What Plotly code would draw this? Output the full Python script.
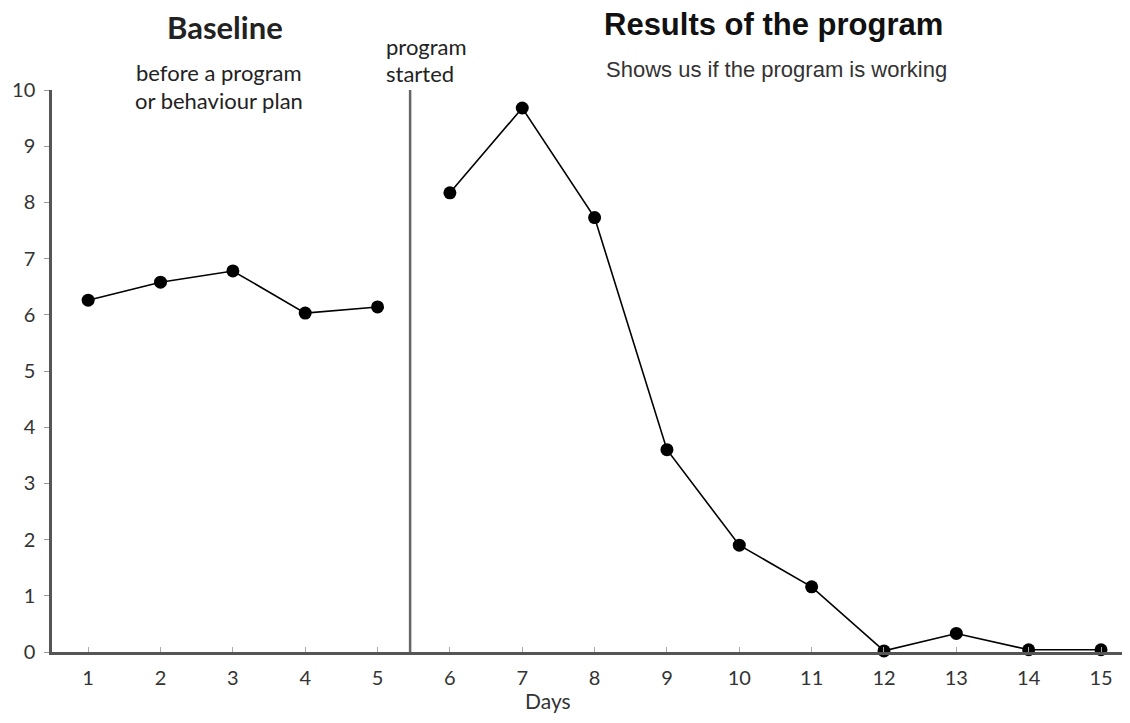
import plotly.graph_objects as go

days = list(range(1, 16))
values = [6.26, 6.58, 6.78, 6.03, 6.14, 8.17, 9.68, 7.73, 3.60, 1.90, 1.16, 0.02, 0.33, 0.04, 0.04]
x_ticks = list(range(1, 16))
y_ticks = list(range(0, 11))
phase_change = 5.45

baseline_x = days[:5]
baseline_y = values[:5]
result_x = days[5:]
result_y = values[5:]

fig = go.Figure()
for xs, ys in [(baseline_x, baseline_y), (result_x, result_y)]:
    fig.add_trace(go.Scatter(
        x=xs, y=ys, mode="lines+markers",
        line=dict(color="black", width=1.6),
        marker=dict(color="black", size=13),
        cliponaxis=False, showlegend=False))

fig.add_shape(type="line", xref="x", yref="y", x0=phase_change, x1=phase_change,
              y0=0, y1=10, line=dict(color="#666666", width=2.5))

tickfont = dict(family="Lato", size=20, color="#333333")
fig.update_xaxes(range=[0.5, 15.29], tickvals=x_ticks, ticks="inside", ticklen=5,
                 tickcolor="#aaaaaa", showline=True, linecolor="#555555", linewidth=2.5,
                 showgrid=False, zeroline=False, tickfont=tickfont, ticklabelstandoff=6)
fig.update_yaxes(range=[0, 10], tickvals=y_ticks, ticks="outside", ticklen=5,
                 tickcolor="#999999", showline=True, linecolor="#555555", linewidth=2.5,
                 showgrid=False, zeroline=False, tickfont=tickfont, ticklabelstandoff=5)

def ann(text, x, y, size, family, bold=False, xanchor="center", color="#222222"):
    fig.add_annotation(text=f"<b>{text}</b>" if bold else text, x=x, y=y,
                       xref="paper", yref="paper", showarrow=False,
                       xanchor=xanchor, yanchor="middle",
                       font=dict(family=family, size=size, color=color))

ann("Baseline", 0.162, 1.112, 31, "Lato", bold=True)
ann("before a program", 0.156, 1.032, 22, "Lato")
ann("or behaviour plan", 0.156, 0.982, 22, "Lato")
ann("program", 0.310, 1.078, 22, "Lato", xanchor="left")
ann("started", 0.310, 1.030, 22, "Lato", xanchor="left")
ann("Results of the program", 0.674, 1.117, 31, "Liberation Sans", bold=True, color="#111111")
ann("Shows us if the program is working", 0.677, 1.036, 22, "Liberation Sans", color="#333333")
ann("Days", 0.464, -0.086, 21, "Lato", color="#333333")

fig.update_layout(width=1114, height=707, paper_bgcolor="white", plot_bgcolor="white",
                  margin=dict(l=44, r=0, t=82, b=63))
fig.write_html("out.html")
